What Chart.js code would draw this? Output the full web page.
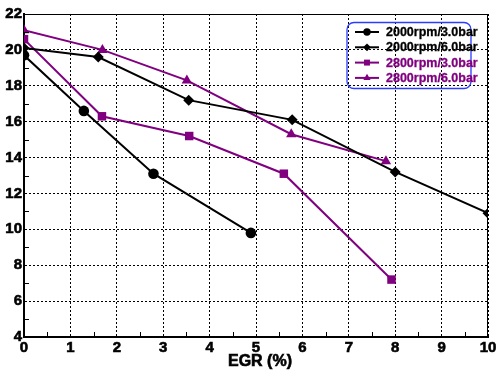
<!DOCTYPE html>
<html>
<head>
<meta charset="utf-8">
<script src="https://cdn.jsdelivr.net/npm/chart.js@4.4.1/dist/chart.umd.min.js"></script>
<style>
  html, body { margin: 0; padding: 0; background: #fff; }
  #wrap { width: 499px; height: 372px; }
</style>
</head>
<body>
<div id="wrap"><canvas id="chart" width="499" height="372"></canvas></div>
<script>
// series names and values
const seriesNames = ['2000rpm/3.0bar', '2000rpm/6.0bar', '2800rpm/3.0bar', '2800rpm/6.0bar'];

const egr2000low = [0, 1.29, 2.79, 4.89];
const val2000low = [19.7, 16.6, 13.1, 9.8];

const egr2000high = [0, 1.6, 3.55, 5.78, 8.0, 10.0];
const val2000high = [20.1, 19.6, 17.2, 16.1, 13.2, 10.9];

const egr2800low = [0, 1.68, 3.56, 5.6, 7.92];
const val2800low = [20.6, 16.3, 15.2, 13.1, 7.2];

const egr2800high = [0, 1.69, 3.51, 5.76, 7.8];
const val2800high = [21.1, 20.0, 18.3, 15.3, 13.8];

const xTicks = [0, 1, 2, 3, 4, 5, 6, 7, 8, 9, 10];
const yTicks = [4, 6, 8, 10, 12, 14, 16, 18, 20, 22];
const xTitle = 'EGR (%)';

const BLACK = '#000000';
const PURPLE = '#800080';
const FONT = 'Arial, "Liberation Sans", sans-serif';

Chart.defaults.font.family = FONT;
Chart.defaults.font.weight = 'bold';
Chart.defaults.color = BLACK;

const toPoints = (xs, ys) => xs.map((v, i) => ({ x: v, y: ys[i] }));

const mkSet = (i, xs, ys, color, style, r) => ({
  label: seriesNames[i],
  data: toPoints(xs, ys),
  showLine: true,
  borderColor: color,
  backgroundColor: color,
  borderWidth: 2,
  pointStyle: style,
  pointRadius: r,
  pointBorderWidth: 0,
  pointBackgroundColor: color,
  legendRadius: r * 0.7
});

const datasets = [
  mkSet(0, egr2000low, val2000low, BLACK, 'circle', 5.3),
  mkSet(1, egr2000high, val2000high, BLACK, 'rectRot', 5.5),
  mkSet(2, egr2800low, val2800low, PURPLE, 'rect', 6),
  mkSet(3, egr2800high, val2800high, PURPLE, 'triangle', 6)
];

// frame, minor ticks, axis title and the boxed legend
const extras = {
  id: 'extras',
  afterDraw(chart) {
    const { ctx, chartArea: a, scales: { x, y } } = chart;
    ctx.save();
    ctx.strokeStyle = BLACK;
    ctx.lineWidth = 1;
    ctx.setLineDash([]);
    ctx.beginPath();
    ctx.moveTo(a.left, a.top + 0.5);
    ctx.lineTo(a.right, a.top + 0.5);
    ctx.moveTo(a.right - 0.5, a.top);
    ctx.lineTo(a.right - 0.5, a.bottom);
    for (let i = 0; i < xTicks.length - 1; i++) {
      const px = Math.round(x.getPixelForValue((xTicks[i] + xTicks[i + 1]) / 2)) + 0.5;
      ctx.moveTo(px, a.bottom);
      ctx.lineTo(px, a.bottom - 5);
    }
    for (let i = 0; i < yTicks.length - 1; i++) {
      const py = Math.round(y.getPixelForValue((yTicks[i] + yTicks[i + 1]) / 2)) + 0.5;
      ctx.moveTo(a.left, py);
      ctx.lineTo(a.left + 5, py);
    }
    ctx.stroke();

    // x axis title, a little heavier than the stock one
    ctx.font = 'bold 16px ' + FONT;
    ctx.textAlign = 'center';
    ctx.textBaseline = 'middle';
    ctx.fillStyle = BLACK;
    ctx.lineWidth = 0.6;
    ctx.strokeText(xTitle, (a.left + a.right) / 2 + 4, 362);
    ctx.fillText(xTitle, (a.left + a.right) / 2 + 4, 362);

    // legend box
    ctx.strokeStyle = '#2a3cff';
    ctx.lineWidth = 1.3;
    ctx.beginPath();
    ctx.roundRect(347, 22.5, 124, 66, 7);
    ctx.stroke();

    chart.data.datasets.forEach((ds, i) => {
      const ly = 32 + i * 15.3;
      ctx.strokeStyle = ds.borderColor;
      ctx.fillStyle = ds.borderColor;
      ctx.lineWidth = 2;
      ctx.beginPath();
      ctx.moveTo(355, ly);
      ctx.lineTo(379, ly);
      ctx.stroke();
      Chart.helpers.drawPoint(ctx, { pointStyle: ds.pointStyle, rotation: 0, radius: ds.legendRadius, borderWidth: 0 }, 367, ly);
      ctx.font = 'bold 12.5px ' + FONT;
      ctx.textBaseline = 'middle';
      ctx.textAlign = 'left';
      ctx.lineWidth = 0.3;
      ctx.strokeText(ds.label, 386, ly + 0.5);
      ctx.fillText(ds.label, 386, ly + 0.5);
    });
    ctx.restore();
  }
};

const tickOpts = {
  color: BLACK,
  font: { size: 15, weight: 'bold' },
  padding: 2,
  autoSkip: false,
  textStrokeColor: BLACK,
  textStrokeWidth: 0.6
};

new Chart(document.getElementById('chart').getContext('2d'), {
  type: 'scatter',
  data: { datasets },
  options: {
    responsive: false,
    animation: false,
    layout: { padding: { top: 14, right: 11, left: 0, bottom: 0 } },
    plugins: { legend: { display: false }, tooltip: { enabled: false } },
    scales: {
      x: {
        type: 'linear',
        min: xTicks[0],
        max: xTicks[xTicks.length - 1],
        afterBuildTicks: s => { s.ticks = xTicks.map(v => ({ value: v })); },
        afterFit: s => { s.height = 35; },
        grid: { color: BLACK, lineWidth: 1, drawTicks: false },
        border: { display: true, color: BLACK, width: 2, dash: [2, 2] },
        ticks: Object.assign({ maxRotation: 0 }, tickOpts),
        title: { display: false, text: xTitle }
      },
      y: {
        type: 'linear',
        min: yTicks[0],
        max: yTicks[yTicks.length - 1],
        afterBuildTicks: s => { s.ticks = yTicks.map(v => ({ value: v })); },
        afterFit: s => { s.width = 24; },
        grid: { color: BLACK, lineWidth: 1, drawTicks: false },
        border: { display: true, color: BLACK, width: 2, dash: [2, 2] },
        ticks: tickOpts
      }
    }
  },
  plugins: [extras]
});
</script>
</body>
</html>
